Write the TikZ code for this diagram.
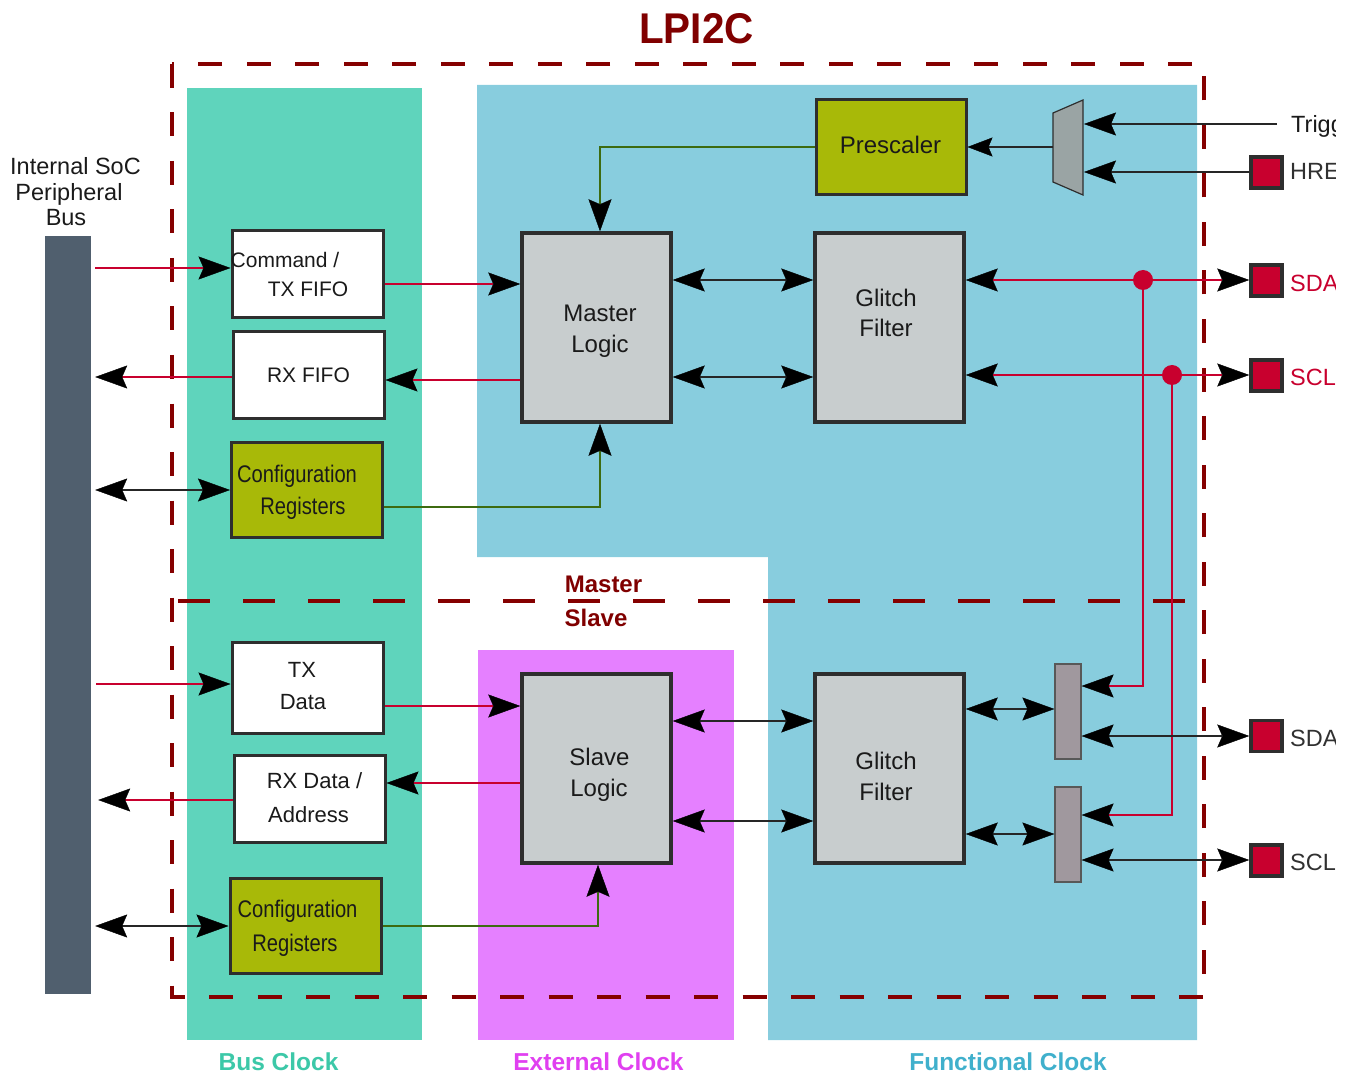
\documentclass[tikz,border=0pt]{standalone}
\usepackage{fontspec}
\setmainfont{Liberation Sans}
\newfontfamily\condf[FakeStretch=0.84]{Liberation Sans}
\newfontfamily\titlef[FakeStretch=0.94]{Liberation Sans}
\usetikzlibrary{arrows.meta}
\definecolor{tealbg}{HTML}{5FD4BC}
\definecolor{bluebg}{HTML}{88CDDE}
\definecolor{magbg}{HTML}{E580FF}
\definecolor{olivef}{HTML}{A8B908}
\definecolor{logicf}{HTML}{C8CDCE}
\definecolor{crim}{HTML}{C8002E}
\definecolor{dred}{HTML}{800000}
\definecolor{dashc}{HTML}{850000}
\definecolor{busc}{HTML}{505F6E}
\definecolor{muxa}{HTML}{9AA4A4}
\definecolor{muxb}{HTML}{A0989E}
\definecolor{grnl}{HTML}{3D6B10}
\definecolor{edgec}{HTML}{2E2E2E}
\definecolor{txtc}{HTML}{1A1A1A}
\definecolor{busclk}{HTML}{3CC8A8}
\definecolor{extclk}{HTML}{E040F0}
\definecolor{funclk}{HTML}{40B0CC}
\tikzset{
  BigA/.tip={Stealth[length=32pt,width=23pt,inset=5pt,line width=0.4pt,color=black]},
  SmallA/.tip={Stealth[length=25pt,width=19pt,inset=4pt,line width=0.4pt,color=black]},
}
\begin{document}
\begin{tikzpicture}[x=1pt,y=-1pt,
  boxst/.style={draw=edgec,line width=3pt,inner sep=0pt},
  whitebox/.style={boxst,fill=white,minimum width=151pt},
  olivebox/.style={boxst,fill=olivef,minimum width=151pt,minimum height=95pt},
  logicbox/.style={boxst,line width=3.5pt,fill=logicf,minimum width=149pt,minimum height=189pt},
  pinbox/.style={draw=edgec,line width=3.5pt,fill=crim,minimum size=31pt,inner sep=0pt},
  muxbox/.style={draw=edgec!80,line width=1.2pt,fill=muxb,minimum width=26pt,minimum height=95pt,inner sep=0pt},
  dotst/.style={circle,fill=crim,minimum size=20pt,inner sep=0pt},
  txt/.style={anchor=base,inner sep=0pt,text=txtc,font=\fontsize{24}{28}\selectfont},
  smtxt/.style={txt,font=\fontsize{21}{25}\selectfont},
  mdtxt/.style={txt,font=\fontsize{22}{26}\selectfont},
  cftxt/.style={txt,font=\condf\fontsize{24}{28}\selectfont},
  pintxt/.style={anchor=base west,inner sep=0pt,font=\fontsize{23.5}{28}\selectfont},
  clktxt/.style={anchor=base,inner sep=0pt,font=\bfseries\fontsize{24.5}{28}\selectfont},
  mstxt/.style={anchor=base,inner sep=0pt,text=dred,font=\bfseries\fontsize{24}{28}\selectfont},
  redl/.style={draw=crim,line width=2.5pt},
  blkl/.style={draw=black!85,line width=2.5pt},
  grnline/.style={draw=grnl,line width=2.5pt},
]
\useasboundingbox (0,0) rectangle (1350,1075);
\clip (0,0) rectangle (1335,1075);

% clock domains
\fill[tealbg] (187,88) rectangle (422,1040);
\fill[bluebg] (477,85) -- (1197,85) -- (1197,1040) -- (768,1040) -- (768,557) -- (477,557) -- cycle;
\fill[magbg] (478,650) rectangle (734,1040);

% boundaries
\draw[dashc,line width=4pt,dash pattern=on 24pt off 24.5pt] (172,64) rectangle (1204,997);
\draw[dashc,line width=4.5pt,dash pattern=on 32pt off 33pt] (178,601) -- (1185,601);

% title and labels
\node[anchor=base,inner sep=0pt,text=dred,font=\titlef\bfseries\fontsize{43}{48}\selectfont] (title) at (696.5,44) {LPI2C};
\node[mstxt] (lmaster) at (603.5,592) {Master};
\node[mstxt] (lslave) at (596,626) {Slave};
\node[clktxt,text=busclk] (lbus) at (278.5,1070) {Bus Clock};
\node[clktxt,text=extclk] (lext) at (598.5,1070) {External Clock};
\node[clktxt,text=funclk] (lfun) at (1008,1070) {Functional Clock};

% bus
\node[fill=busc,minimum width=46pt,minimum height=758pt,inner sep=0pt] (bus) at (68,615) {};
\node[txt,font=\fontsize{23.5}{28}\selectfont] (bl1) at (75.5,175) {Internal SoC};
\node[txt,font=\fontsize{23.5}{28}\selectfont] (bl2) at (69,201) {Peripheral};
\node[txt,font=\fontsize{23.5}{28}\selectfont] (bl3) at (66,226) {Bus};

% left boxes
\node[whitebox,minimum height=87pt] (cmd) at (307.5,274.5) {};
\node[smtxt] (cmdt1) at (285,268) {Command /};
\node[smtxt] (cmdt2) at (308,297) {TX FIFO};
\node[whitebox,minimum height=86pt] (rxf) at (308.5,375) {};
\node[smtxt] (rxft) at (308.5,382) {RX FIFO};
\node[olivebox] (cfg1) at (307,489.5) {};
\node[cftxt] (cfg1a) at (297,482) {Configuration};
\node[cftxt] (cfg1b) at (303,514) {Registers};
\node[whitebox,minimum height=91pt] (txd) at (307.5,687.5) {};
\node[mdtxt] (txda) at (302,677) {TX};
\node[mdtxt] (txdb) at (303,709) {Data};
\node[whitebox,minimum height=87pt] (rxd) at (309.5,798.5) {};
\node[mdtxt] (rxda) at (314.5,788) {RX Data /};
\node[mdtxt] (rxdb) at (308.5,822) {Address};
\node[olivebox] (cfg2) at (305.5,925.5) {};
\node[cftxt] (cfg2a) at (297.5,917) {Configuration};
\node[cftxt] (cfg2b) at (295,951) {Registers};

% logic blocks
\node[logicbox] (ml) at (596.5,327.5) {};
\node[txt] (mlt1) at (600,322) {Master};
\node[txt] (mlt2) at (600,353) {Logic};
\node[logicbox] (gf1) at (889.5,327.5) {};
\node[txt] (gf1a) at (886,307) {Glitch};
\node[txt] (gf1b) at (886,337) {Filter};
\node[logicbox] (sl) at (596.5,768.5) {};
\node[txt] (slt1) at (599.5,765) {Slave};
\node[txt] (slt2) at (599,796) {Logic};
\node[logicbox] (gf2) at (889.5,768.5) {};
\node[txt] (gf2a) at (886,769) {Glitch};
\node[txt] (gf2b) at (886,800) {Filter};
\node[olivebox,minimum width=150pt] (pre) at (891,147.5) {};
\node[txt] (pret) at (890.5,154) {Prescaler};

% trigger mux
\draw[draw=edgec,line width=1.2pt,fill=muxa] (1053,113) -- (1083,100) -- (1083,195) -- (1053,182) -- cycle;
\coordinate (muxL) at (1053,147);
\coordinate (muxR1) at (1084,124);
\coordinate (muxR2) at (1084,172);
\coordinate (trigE) at (1277,124);

% slave muxes
\node[muxbox] (m1) at (1068,711.5) {};
\node[muxbox] (m2) at (1068,834.5) {};

% pins
\node[pinbox] (href) at (1266.5,172.5) {};
\node[pinbox] (sda1) at (1266.5,280.5) {};
\node[pinbox] (scl1) at (1266.5,375.5) {};
\node[pinbox] (sda2) at (1266.5,736) {};
\node[pinbox] (scl2) at (1266.5,860.5) {};
\node[pintxt,text=txtc] (trigt) at (1291,133) {Trigger};
\node[pintxt,text=txtc!90] (hreft) at (1290,180) {HREF};
\node[pintxt,text=crim] (sda1t) at (1290,292) {SDA};
\node[pintxt,text=crim] (scl1t) at (1290,385) {SCL};
\node[pintxt,text=txtc!90] (sda2t) at (1290,746) {SDA};
\node[pintxt,text=txtc!90] (scl2t) at (1290,870) {SCL};

% bus connectors
\draw[redl,-{BigA}] ([xshift=4pt]bus.east |- 0,268) -- (cmd.west |- 0,268);
\draw[redl,-{BigA}] (rxf.west |- 0,377) -- ([xshift=4pt]bus.east |- 0,377);
\draw[blkl,{BigA}-{BigA}] ([xshift=4pt]bus.east |- 0,490) -- (cfg1.west |- 0,490);
\draw[redl,-{BigA}] ([xshift=5pt]bus.east |- 0,684) -- (txd.west |- 0,684);
\draw[redl,-{BigA}] (rxd.west |- 0,800) -- ([xshift=7pt]bus.east |- 0,800);
\draw[blkl,{BigA}-{BigA}] ([xshift=4pt]bus.east |- 0,926) -- (cfg2.west |- 0,926);

% master side
\draw[redl,-{BigA}] (cmd.east |- 0,284) -- (ml.west |- 0,284);
\draw[redl,-{BigA}] (ml.west |- 0,380) -- (rxf.east |- 0,380);
\draw[grnline,-{BigA}] (cfg1.east |- 0,507) -| (ml.south -| 600,0);
\draw[grnline,-{BigA}] (pre.west |- 0,147) -| (ml.north -| 600,0);
\draw[blkl,{BigA}-{BigA}] (ml.east |- 0,280) -- (gf1.west |- 0,280);
\draw[blkl,{BigA}-{BigA}] (ml.east |- 0,377) -- (gf1.west |- 0,377);
\draw[redl,{BigA}-{BigA}] (gf1.east |- 0,280) -- (sda1.west |- 0,280);
\draw[redl,{BigA}-{BigA}] (gf1.east |- 0,375) -- (scl1.west |- 0,375);
\draw[black!85,line width=2.2pt,-{SmallA}] (muxL) -- (pre.east |- muxL);
\draw[black!85,line width=2.5pt,-{BigA}] (trigE) -- (muxR1);
\draw[black!85,line width=2.5pt,-{BigA}] (href.west |- muxR2) -- (muxR2);

% pin taps
\node[dotst] (d1) at (1143,280) {};
\node[dotst] (d2) at (1172,375) {};
\draw[redl,-{BigA}] (d1.center) |- (m1.east |- 0,686);
\draw[redl,-{BigA}] (d2.center) |- (m2.east |- 0,815);

% slave side
\draw[redl,-{BigA}] (txd.east |- 0,706) -- (sl.west |- 0,706);
\draw[redl,-{BigA}] (sl.west |- 0,783) -- (rxd.east |- 0,783);
\draw[grnline,-{BigA}] (cfg2.east |- 0,926) -| (sl.south -| 598,0);
\draw[blkl,{BigA}-{BigA}] (sl.east |- 0,721) -- (gf2.west |- 0,721);
\draw[blkl,{BigA}-{BigA}] (sl.east |- 0,821) -- (gf2.west |- 0,821);
\draw[blkl,{BigA}-{BigA}] (gf2.east |- 0,709) -- (m1.west |- 0,709);
\draw[blkl,{BigA}-{BigA}] (gf2.east |- 0,834) -- (m2.west |- 0,834);
\draw[blkl,{BigA}-{BigA}] (m1.east |- 0,736) -- (sda2.west |- 0,736);
\draw[blkl,{BigA}-{BigA}] (m2.east |- 0,860) -- (scl2.west |- 0,860);
\end{tikzpicture}
\end{document}
